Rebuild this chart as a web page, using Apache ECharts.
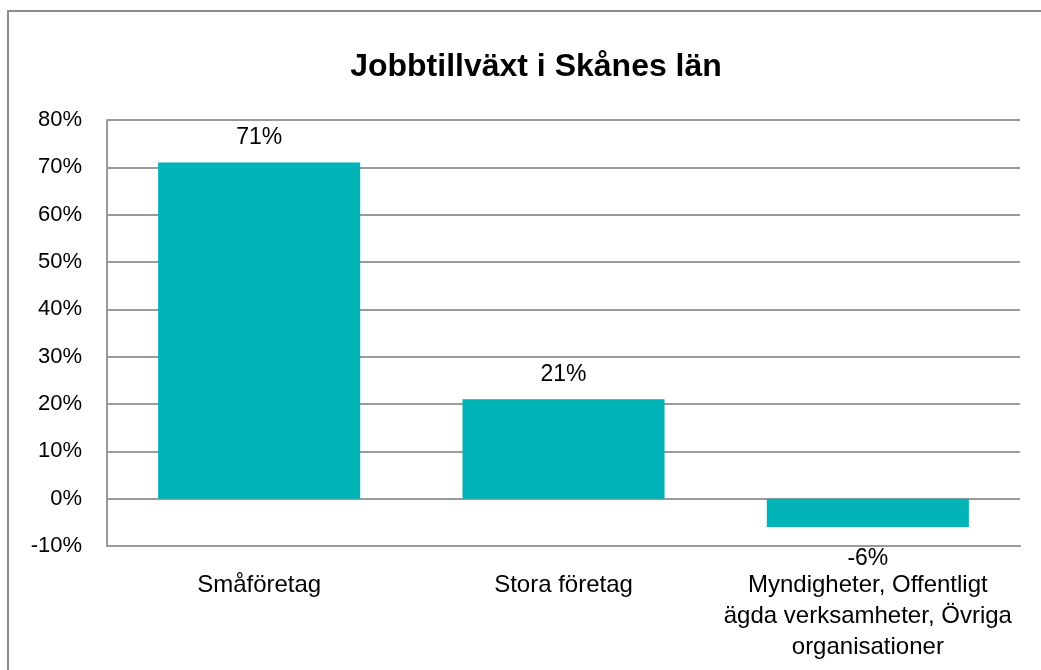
<!DOCTYPE html>
<html>
<head>
<meta charset="utf-8">
<script src="https://cdn.jsdelivr.net/npm/echarts@6/dist/echarts.min.js"></script>
<style>html,body{margin:0;padding:0;background:#fff}#c{width:1041px;height:670px}</style>
</head>
<body>
<div id="c"></div>
<script>
const title = "Jobbtillväxt i Skånes län";
const categories = ["Småföretag", "Stora företag", "Myndigheter, Offentligt\nägda verksamheter, Övriga\norganisationer"];
const values = [71, 21, -6];
const yTicks = { min: -10, max: 80, interval: 10 };

const FONT = "'Liberation Sans', Arial, sans-serif";
const chart = echarts.init(document.getElementById('c'), null, { renderer: 'canvas' });
chart.setOption({
  animation: false,
  backgroundColor: '#fff',
  graphic: [{
    type: 'rect', shape: { x: 8, y: 11, width: 1100, height: 700 },
    style: { fill: 'none', stroke: '#8c8c8c', lineWidth: 2 }, z: -1
  }],
  title: {
    text: title, left: 531, top: 46, textAlign: 'center',
    textStyle: { fontFamily: FONT, fontWeight: 'bold', fontSize: 32, color: '#000' }
  },
  grid: { left: 107, right: 21, top: 120, bottom: 124, containLabel: false },
  xAxis: {
    type: 'category', data: categories,
    axisLine: { onZero: false, lineStyle: { color: '#9a9a9a', width: 2 } },
    axisTick: { show: false },
    axisLabel: { fontFamily: FONT, fontSize: 24, color: '#000', margin: 24, lineHeight: 31, interval: 0 }
  },
  yAxis: {
    type: 'value', min: yTicks.min, max: yTicks.max, interval: yTicks.interval,
    axisLine: { show: true, lineStyle: { color: '#9a9a9a', width: 2 } },
    axisTick: { show: false },
    splitLine: { lineStyle: { color: '#9a9a9a', width: 2 } },
    axisLabel: { fontFamily: FONT, fontSize: 22, color: '#000', margin: 25, padding: [5, 0, 0, 0], formatter: '{value}%' }
  },
  series: [{
    type: 'bar', barCategoryGap: '33.6%',
    itemStyle: { color: '#00B3B7' },
    data: values.map(v => ({
      value: v,
      label: { position: v < 0 ? 'bottom' : 'top', distance: v < 0 ? 20 : 13 }
    })),
    label: { show: true, fontFamily: FONT, fontSize: 23, color: '#000', formatter: p => p.value + '%' }
  }]
});
</script>
</body>
</html>
